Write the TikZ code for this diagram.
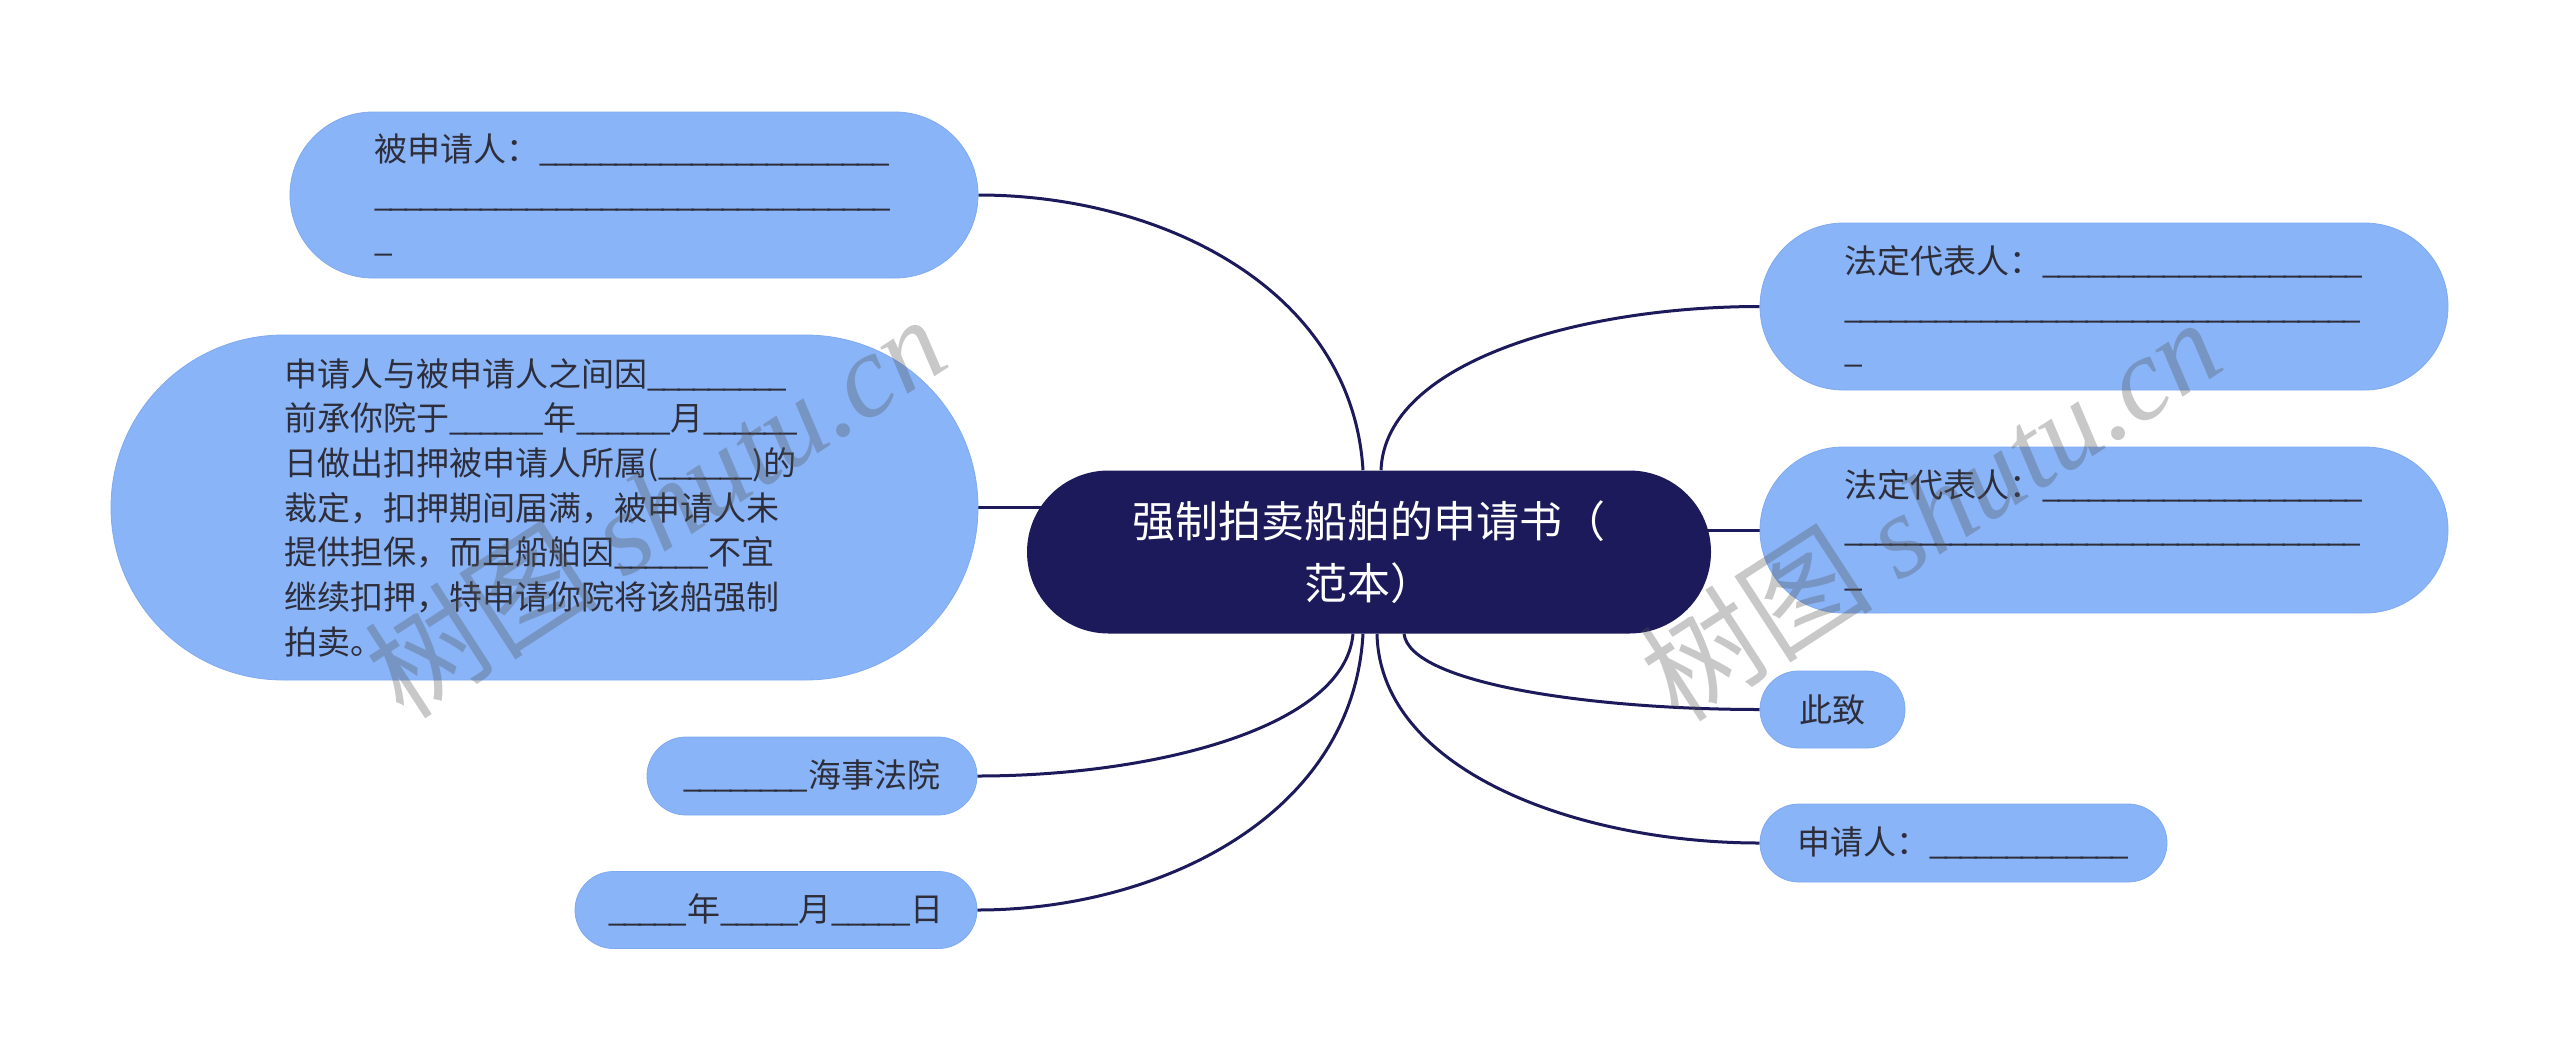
\documentclass[tikz,border=0pt]{standalone}
\usepackage{fontspec}
\setmainfont{Noto Sans CJK SC}
\newfontfamily\wmserif{Liberation Serif}
\usetikzlibrary{calc}
\pgfdeclarelayer{bg}
\pgfdeclarelayer{fg}
\pgfsetlayers{bg,main,fg}
\ExplSyntaxOn
\NewDocumentCommand\myus{m}{\textunderscore\prg_replicate:nn{#1-1}{\kern-2.5pt\textunderscore}}
\ExplSyntaxOff
\definecolor{leafc}{HTML}{89B4F8}
\definecolor{leafb}{HTML}{80AAF0}
\definecolor{rootc}{HTML}{1C1A5A}
\definecolor{txtc}{HTML}{2E2E3A}
\definecolor{wmc}{HTML}{545454}
\tikzset{
  pill/.style n args={2}{minimum width=#1*0.75pt, minimum height=#2*0.75pt,
    rounded corners=#2*0.375pt, inner sep=0pt},
  leaf/.style={fill=leafc, draw=leafb, line width=0.6pt, text=txtc,
    font=\fontsize{24.75pt}{33.5pt}\selectfont},
  multi/.style={align=left, text width=390pt},
  rootbox/.style={fill=rootc, text=white, align=center,
    font=\fontsize{32.25pt}{46.5pt}\selectfont},
  conn/.style={draw=rootc, line width=2.25pt},
  wmark/.style={text=wmc, opacity=0.32, inner sep=0pt,
    font=\fontsize{88pt}{88pt}\selectfont}
}
\begin{document}
\begin{tikzpicture}[x=0.75pt, y=-0.75pt]
\useasboundingbox (0,0) rectangle (2560,1061);

% central node
\node[rootbox, pill={684}{163}] (c) at (1369,552)
  {强制拍卖船舶的申请书（\\范本）};

% left side
\node[leaf, multi, pill={688}{166}] (n1) at (634,195)
  {被申请人：\myus{23}\\\myus{34}\\\myus{1}};
\node[leaf, multi, pill={867}{345}] (n2) at (544.5,507.5)
  {申请人与被申请人之间因\myus{9}\\
   前承你院于\myus{6}年\myus{6}月\myus{6}\\
   日做出扣押被申请人所属(\myus{6})的\\
   裁定，扣押期间届满，被申请人未\\
   提供担保，而且船舶因\myus{6}不宜\\
   继续扣押，特申请你院将该船强制\\
   拍卖。};
\node[leaf, pill={330}{78}] (n3) at (812,776) {\myus{8}海事法院};
\node[leaf, pill={402}{77}] (n4) at (776,910) {\myus{5}年\myus{5}月\myus{5}日};

% right side
\node[leaf, multi, pill={688}{167}] (n5) at (2104,306.5)
  {法定代表人：\myus{21}\\\myus{34}\\\myus{1}};
\node[leaf, multi, pill={688}{166}] (n6) at (2104,530)
  {法定代表人：\myus{21}\\\myus{34}\\\myus{1}};
\node[leaf, pill={145}{77}] (n7) at (1832.5,709.5) {此致};
\node[leaf, pill={407}{78}] (n8) at (1963.5,843) {申请人：\myus{13}};

% connectors
\begin{pgfonlayer}{bg}
\draw[conn] ($(c.north)+(-6,0)$) .. controls +(-11,-182) and +(182,0) .. (n1.east);
\draw[conn] (n2.east) -- (n2.east -| c.center);
\draw[conn] ($(c.south)+(-16,0)$) .. controls +(-8,94) and +(176,0) .. (n3.east);
\draw[conn] ($(c.south)+(-6,0)$) .. controls +(-10,182) and +(182,0) .. (n4.east);
\draw[conn] ($(c.north)+(12,0)$) .. controls +(4,-109) and +(-178,0) .. (n5.west);
\draw[conn] (n6.west) -- (n6.west -| c.center);
\draw[conn] ($(c.south)+(35,0)$) .. controls +(6,50) and +(-167,0) .. (n7.west);
\draw[conn] ($(c.south)+(8,0)$) .. controls +(3,138) and +(-180,0) .. (n8.west);
\end{pgfonlayer}

% watermarks
\begin{pgfonlayer}{fg}
\node[wmark, rotate=33] (w1) at (655,506) {树图 {\wmserif\itshape shutu.cn}};
\node[wmark, rotate=33] (w2) at (1930,509) {树图 {\wmserif\itshape shutu.cn}};
\end{pgfonlayer}
\end{tikzpicture}
\end{document}
